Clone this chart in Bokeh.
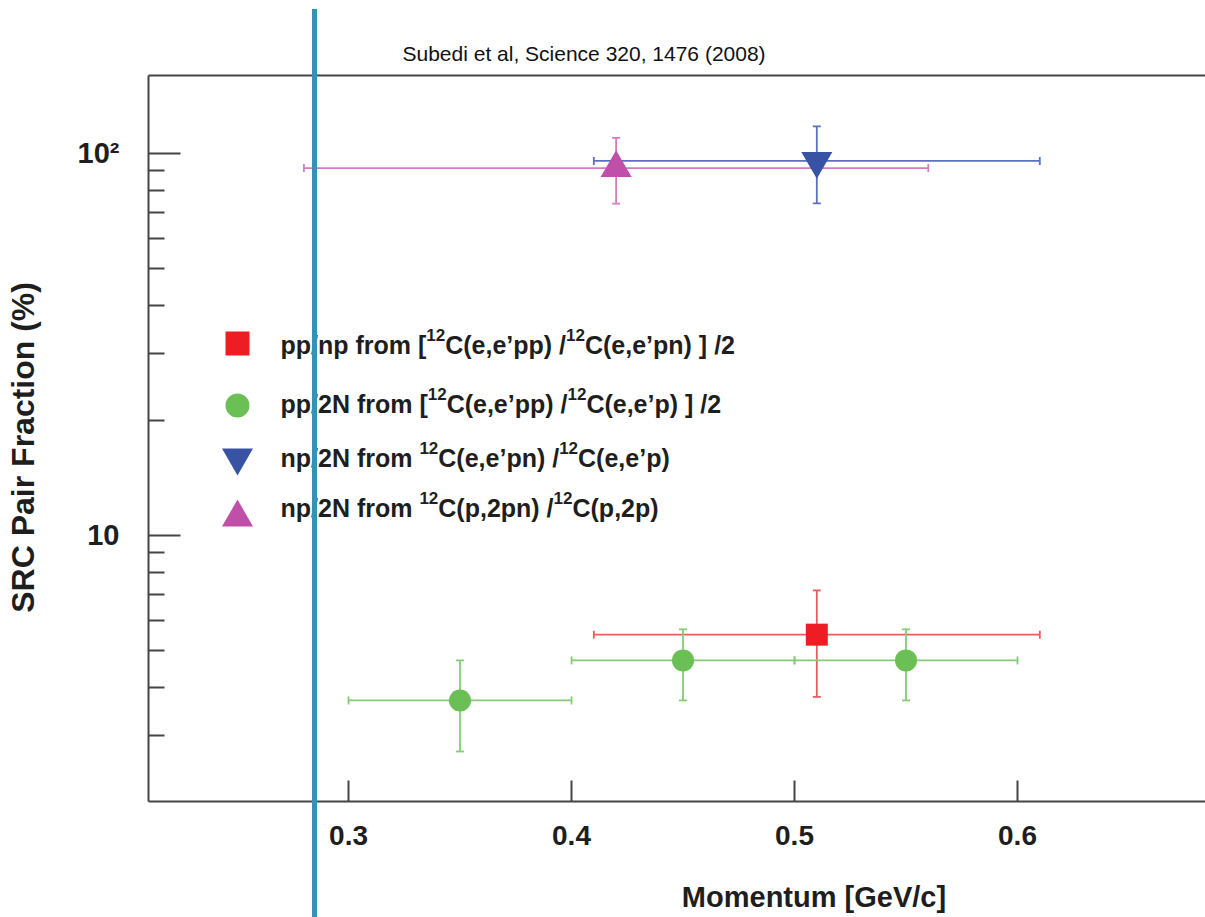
from math import log10
from bokeh.plotting import figure
from bokeh.models import (Range1d, LinearAxis, FixedTicker, Whisker, TeeHead,
                          ColumnDataSource, Label, CustomJSTickFormatter, InlineStyleSheet)
from bokeh.embed import file_html
from bokeh.resources import INLINE

# ---------------- data ----------------
x_tick_values = [0.3, 0.4, 0.5, 0.6]
y_major_ticks = [10, 100]
y_minor_ticks = [3, 4, 5, 6, 7, 8, 9, 20, 30, 40, 50, 60, 70, 80, 90]
y_tick_text = {10: "10", 100: "10\u00b2"}

# pp/np from [12C(e,e'pp)/12C(e,e'pn)]/2
ppnp_x = [0.51]
ppnp_y = [5.5]
ppnp_ylo = [3.78]
ppnp_yhi = [7.18]
ppnp_xlo = [0.41]
ppnp_xhi = [0.61]

# pp/2N from [12C(e,e'pp)/12C(e,e'p)]/2
pp2n_x = [0.35, 0.45, 0.55]
pp2n_y = [3.70, 4.71, 4.71]
pp2n_ylo = [2.72, 3.70, 3.70]
pp2n_yhi = [4.71, 5.68, 5.68]
pp2n_xlo = [0.30, 0.40, 0.50]
pp2n_xhi = [0.40, 0.50, 0.60]

# np/2N from 12C(e,e'pn)/12C(e,e'p)
np2ne_x = [0.51]
np2ne_y = [95.6]
np2ne_ylo = [74.0]
np2ne_yhi = [117.7]
np2ne_xlo = [0.41]
np2ne_xhi = [0.61]

# np/2N from 12C(p,2pn)/12C(p,2p)
np2np_x = [0.42]
np2np_y = [91.6]
np2np_ylo = [73.9]
np2np_yhi = [109.9]
np2np_xlo = [0.28]
np2np_xhi = [0.56]

legend_lines = [
    [("pp/np from [", False), ("12", True), ("C(e,e\u2019pp) /", False), ("12", True), ("C(e,e\u2019pn) ] /2", False)],
    [("pp/2N from [", False), ("12", True), ("C(e,e\u2019pp) /", False), ("12", True), ("C(e,e\u2019p) ] /2", False)],
    [("np/2N from ", False), ("12", True), ("C(e,e\u2019pn) /", False), ("12", True), ("C(e,e\u2019p)", False)],
    [("np/2N from ", False), ("12", True), ("C(p,2pn) /", False), ("12", True), ("C(p,2p)", False)],
]
title_text = "Subedi et al, Science 320, 1476 (2008)"
x_title = "Momentum [GeV/c]"
y_title = "SRC Pair Fraction (%)"

# ---------------- layout / style ----------------
W, H = 1205, 917
FL, FR, FT, FB = 148, 1205, 75, 801
X0, X1 = 0.2103, 0.6843
Y0, Y1 = 2.012, 160.0
FONT = "Liberation Sans"
TXT = "#1e1e1e"
AX = "#454545"
NBSP = "\u00a0"

RED, RED_BAR = "#EE1D24", "#F05A5E"
GREEN, GREEN_BAR = "#6ABF55", "#84CC76"
BLUE, BLUE_BAR = "#3953A4", "#5B70BE"
MAG, MAG_BAR = "#BF4FA8", "#D47AC6"


def px_x(px):
    return X0 + (px - FL) / (FR - FL) * (X1 - X0)


def px_y(py):
    ly = log10(Y1) - (py - FT) / (FB - FT) * (log10(Y1) - log10(Y0))
    return 10 ** ly


W_BOLD = {' ': 278, 'p': 611, 'n': 611, '/': 278, 'f': 333, 'r': 389, 'o': 611, 'm': 889,
          '[': 333, ']': 333, '1': 556, '2': 556, 'C': 722, '(': 333, ')': 333, 'e': 556,
          ',': 278, '\u2019': 278, 'N': 722, '0': 556}


def text_w(s, size):
    return sum(W_BOLD[c] for c in s) * size / 1000.0


css = """
:host { position: relative; }
:host::after { content: ''; position: absolute; left: 311.7px; top: 9px; width: 5px;
               height: 908px; background-color: #3592B5; pointer-events: none; z-index: 50; }
"""

p = figure(width=W, height=H, x_range=Range1d(X0, X1), y_range=Range1d(Y0, Y1),
           y_axis_type="log", output_backend="svg", toolbar_location=None,
           min_border_left=FL, min_border_right=0, min_border_top=FT, min_border_bottom=H - FB,
           stylesheets=[InlineStyleSheet(css=css)])
p.outline_line_color = None
p.xgrid.visible = False
p.ygrid.visible = False
p.background_fill_color = "white"
p.border_fill_color = "white"

# title (citation)
p.title.text = title_text
p.title.align = "left"
p.title.offset = 254
p.title.standoff = 21
p.title.text_font = FONT
p.title.text_font_style = "normal"
p.title.text_font_size = "21px"
p.title.text_color = "#111111"

# x axis
xa = p.xaxis[0]
xa.ticker = FixedTicker(ticks=x_tick_values, minor_ticks=[])
xa.major_tick_in = 21
xa.major_tick_out = 0
xa.major_tick_line_color = AX
xa.major_tick_line_width = 2
xa.minor_tick_line_color = None
xa.axis_line_color = AX
xa.axis_line_width = 2
xa.major_label_text_font = FONT
xa.major_label_text_font_style = "bold"
xa.major_label_text_font_size = "28px"
xa.major_label_text_color = TXT
xa.major_label_standoff = 24
# the reference's axis title sits right of the frame centre: pad it with no-break spaces
xa.axis_label = NBSP * 34 + x_title
xa.axis_label_text_font = FONT
xa.axis_label_text_font_style = "bold"
xa.axis_label_text_font_size = "29px"
xa.axis_label_text_color = TXT
xa.axis_label_standoff = 33

# y axis
ya = p.yaxis[0]
ya.ticker = FixedTicker(ticks=y_major_ticks, minor_ticks=y_minor_ticks)
ya.formatter = CustomJSTickFormatter(
    args=dict(lab=[str(k) for k in y_tick_text], txt=list(y_tick_text.values())),
    code="const i = lab.indexOf(String(Math.round(tick))); return i >= 0 ? txt[i] : '';")
ya.major_tick_in = 32
ya.major_tick_out = 0
ya.minor_tick_in = 16
ya.minor_tick_out = 0
ya.major_tick_line_color = AX
ya.minor_tick_line_color = AX
ya.major_tick_line_width = 2
ya.minor_tick_line_width = 2
ya.axis_line_color = AX
ya.axis_line_width = 2
ya.major_label_text_font = FONT
ya.major_label_text_font_style = "bold"
ya.major_label_text_font_size = "29px"
ya.major_label_text_color = TXT
ya.major_label_standoff = 29
ya.axis_label = y_title + NBSP * 2
ya.axis_label_text_font = FONT
ya.axis_label_text_font_style = "bold"
ya.axis_label_text_font_size = "32px"
ya.axis_label_text_color = TXT
ya.axis_label_standoff = 34

top_axis = LinearAxis(ticker=FixedTicker(ticks=[]), axis_line_color=AX, axis_line_width=2,
                      major_tick_in=0, major_tick_out=0, major_label_standoff=0,
                      major_tick_line_color=None, minor_tick_line_color=None,
                      major_label_text_font_size="0px")
p.add_layout(top_axis, "above")

# ---------------- error bars and markers ----------------
series = [
    (ppnp_x, ppnp_y, ppnp_ylo, ppnp_yhi, ppnp_xlo, ppnp_xhi, RED, RED_BAR, "square", 22),
    (pp2n_x, pp2n_y, pp2n_ylo, pp2n_yhi, pp2n_xlo, pp2n_xhi, GREEN, GREEN_BAR, "circle", 22),
    (np2np_x, np2np_y, np2np_ylo, np2np_yhi, np2np_xlo, np2np_xhi, MAG, MAG_BAR, "triangle", 31),
    (np2ne_x, np2ne_y, np2ne_ylo, np2ne_yhi, np2ne_xlo, np2ne_xhi, BLUE, BLUE_BAR, "inverted_triangle", 31),
]
for (sx, sy, ylo, yhi, xlo, xhi, col, bar, mk, size) in series:
    src = ColumnDataSource(dict(x=sx, y=sy, ylo=ylo, yhi=yhi, xlo=xlo, xhi=xhi))
    p.add_layout(Whisker(source=src, base="x", lower="ylo", upper="yhi", dimension="height",
                         line_color=bar, line_width=1.8,
                         lower_head=TeeHead(size=8, line_color=bar, line_width=1.8),
                         upper_head=TeeHead(size=8, line_color=bar, line_width=1.8)))
    p.add_layout(Whisker(source=src, base="y", lower="xlo", upper="xhi", dimension="width",
                         line_color=bar, line_width=1.8,
                         lower_head=TeeHead(size=8, line_color=bar, line_width=1.8),
                         upper_head=TeeHead(size=8, line_color=bar, line_width=1.8)))

for (sx, sy, ylo, yhi, xlo, xhi, col, bar, mk, size) in series:
    p.scatter(x=sx, y=sy, marker=mk, size=size, fill_color=col, line_color=None)

# ---------------- legend (drawn by hand to get the superscripts) ----------------
legend_marker_px = [
    (237, 343, "square", 24, RED),
    (237, 405, "circle", 24, GREEN),
    (237, 457, "inverted_triangle", 31, BLUE),
    (237, 517, "triangle", 31, MAG),
]
for (mx, my, mk, size, col) in legend_marker_px:
    p.scatter(x=[px_x(mx)], y=[px_y(my)], marker=mk, size=size, fill_color=col, line_color=None)

LEG_X = 280
LEG_BASE = [353, 412, 466, 516]
LABEL_DY = 9
F_MAIN, F_SUP, SUP_RISE = 25, 17, 10
for line, base in zip(legend_lines, LEG_BASE):
    cx = LEG_X
    for (txt, sup) in line:
        fs = F_SUP if sup else F_MAIN
        by = (base - SUP_RISE if sup else base) - LABEL_DY
        p.add_layout(Label(x=px_x(cx), y=px_y(by), text=txt, text_font=FONT,
                           text_font_style="bold", text_font_size=f"{fs}px",
                           text_color=TXT, text_align="left", text_baseline="alphabetic"))
        cx += text_w(txt, fs)

open("out.html", "w").write(file_html(p, INLINE))
